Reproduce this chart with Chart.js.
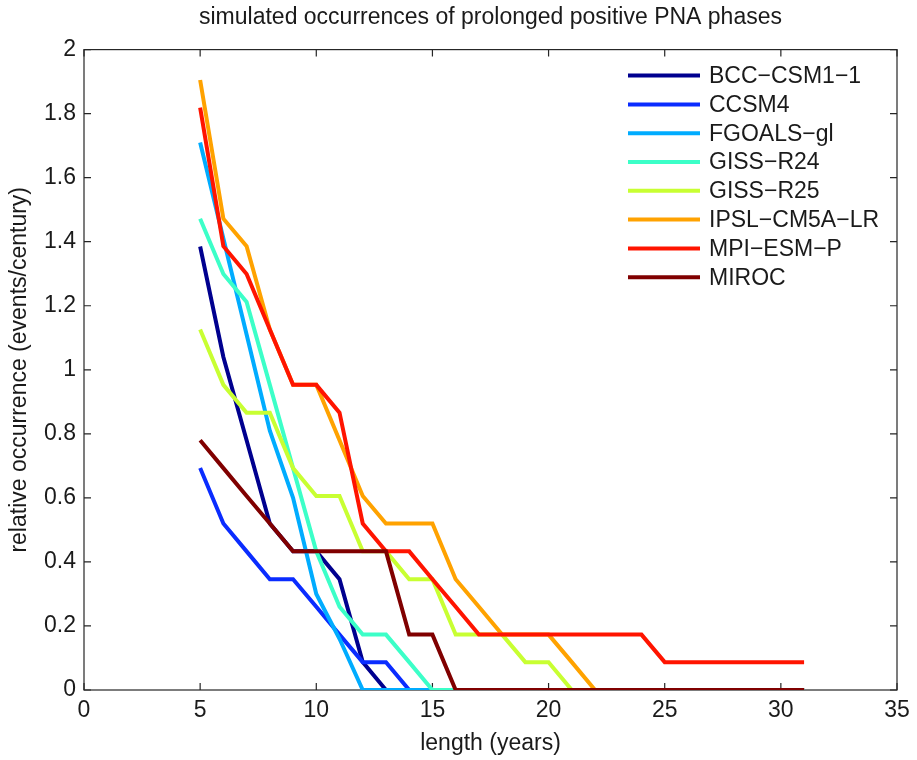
<!DOCTYPE html>
<html>
<head>
<meta charset="utf-8">
<title>simulated occurrences of prolonged positive PNA phases</title>
<script src="https://cdn.jsdelivr.net/npm/chart.js@4.4.1/dist/chart.umd.min.js"></script>
<style>
  html, body { margin: 0; padding: 0; background: #fff; }
</style>
</head>
<body>
<canvas id="pnaChart" width="917" height="760"></canvas>
<script>
// event length in years (x)
const lengths = [5, 6, 7, 8, 9, 10, 11, 12, 13, 14, 15, 16, 17, 18, 19, 20, 21, 22, 23, 24, 25, 26, 27, 28, 29, 30, 31];

const modelNames = ["BCC\u2212CSM1\u22121", "CCSM4", "FGOALS\u2212gl", "GISS\u2212R24", "GISS\u2212R25", "IPSL\u2212CM5A\u2212LR", "MPI\u2212ESM\u2212P", "MIROC"];
const modelColors = ["#00008f", "#0a2cff", "#00acff", "#3cffc8", "#c8ff32", "#ffa200", "#ff1400", "#800000"];

// relative occurrence (events/century), one value per length
const bcc    = [1.385, 1.04, 0.78, 0.52, 0.433, 0.433, 0.346, 0.087, 0, 0, 0, 0, 0, 0, 0, 0, 0, 0, 0, 0, 0, 0, 0, 0, 0, 0, 0];
const ccsm4  = [0.693, 0.52, 0.433, 0.346, 0.346, 0.26, 0.173, 0.087, 0.087, 0, 0, 0, 0, 0, 0, 0, 0, 0, 0, 0, 0, 0, 0, 0, 0, 0, 0];
const fgoals = [1.71, 1.41, 1.11, 0.81, 0.6, 0.3, 0.16, 0, 0, 0, 0, 0, 0, 0, 0, 0, 0, 0, 0, 0, 0, 0, 0, 0, 0, 0, 0];
const gissR24 = [1.472, 1.299, 1.212, 0.953, 0.693, 0.433, 0.26, 0.173, 0.173, 0.087, 0, 0, 0, 0, 0, 0, 0, 0, 0, 0, 0, 0, 0, 0, 0, 0, 0];
const gissR25 = [1.126, 0.953, 0.866, 0.866, 0.693, 0.606, 0.606, 0.433, 0.433, 0.346, 0.346, 0.173, 0.173, 0.173, 0.087, 0.087, 0, 0, 0, 0, 0, 0, 0, 0, 0, 0, 0];
const ipsl   = [1.905, 1.472, 1.386, 1.126, 0.953, 0.953, 0.78, 0.606, 0.52, 0.52, 0.52, 0.346, 0.26, 0.173, 0.173, 0.173, 0.087, 0, 0, 0, 0, 0, 0, 0, 0, 0, 0];
const mpi    = [1.819, 1.386, 1.299, 1.126, 0.953, 0.953, 0.866, 0.52, 0.433, 0.433, 0.346, 0.26, 0.173, 0.173, 0.173, 0.173, 0.173, 0.173, 0.173, 0.173, 0.087, 0.087, 0.087, 0.087, 0.087, 0.087, 0.087];
const miroc  = [0.78, 0.693, 0.606, 0.52, 0.433, 0.433, 0.433, 0.433, 0.433, 0.173, 0.173, 0, 0, 0, 0, 0, 0, 0, 0, 0, 0, 0, 0, 0, 0, 0, 0];

const modelSeries = [bcc, ccsm4, fgoals, gissR24, gissR25, ipsl, mpi, miroc];

const xTicks = [0, 5, 10, 15, 20, 25, 30, 35];
const yTicks = [0, 0.2, 0.4, 0.6, 0.8, 1, 1.2, 1.4, 1.6, 1.8, 2];

const FONT = "'Liberation Sans', Arial, Helvetica, sans-serif";
const INK = "#1a1a1a";

// box round the axes with inward ticks (matlab look)
const axesBox = {
  id: "axesBox",
  beforeDatasetsDraw(chart) {
    const { ctx, chartArea: a, scales } = chart;
    ctx.save();
    ctx.strokeStyle = "#262626";
    ctx.lineWidth = 1.2;
    ctx.strokeRect(a.left, a.top, a.right - a.left, a.bottom - a.top);
    ctx.beginPath();
    xTicks.forEach(v => {
      const px = scales.x.getPixelForValue(v);
      ctx.moveTo(px, a.bottom); ctx.lineTo(px, a.bottom - 7);
      ctx.moveTo(px, a.top); ctx.lineTo(px, a.top + 7);
    });
    yTicks.forEach(v => {
      const py = scales.y.getPixelForValue(v);
      ctx.moveTo(a.left, py); ctx.lineTo(a.left + 7, py);
      ctx.moveTo(a.right, py); ctx.lineTo(a.right - 7, py);
    });
    ctx.stroke();
    ctx.restore();
  }
};

// legend inside the top right of the plot, no box
const insideLegend = {
  id: "insideLegend",
  afterDatasetsDraw(chart) {
    const { ctx, chartArea: a } = chart;
    const x0 = a.right - 269, lineLen = 72, rowH = 28.8, y0 = a.top + 26;
    ctx.save();
    ctx.font = "23px " + FONT;
    ctx.textBaseline = "middle";
    ctx.textAlign = "left";
    chart.data.datasets.forEach((ds, i) => {
      const y = y0 + i * rowH;
      ctx.strokeStyle = ds.borderColor;
      ctx.lineWidth = 4;
      ctx.beginPath();
      ctx.moveTo(x0, y);
      ctx.lineTo(x0 + lineLen, y);
      ctx.stroke();
      ctx.fillStyle = INK;
      ctx.fillText(ds.label, x0 + lineLen + 9, y + 1);
    });
    ctx.restore();
  }
};

new Chart(document.getElementById("pnaChart"), {
  type: "line",
  data: {
    datasets: modelNames.map((name, i) => ({
      label: name,
      data: lengths.map((len, j) => ({ x: len, y: modelSeries[i][j] })),
      borderColor: modelColors[i],
      backgroundColor: modelColors[i],
      borderWidth: 4,
      pointRadius: 0,
      tension: 0,
      fill: false,
      order: modelNames.length - i // later models drawn on top
    }))
  },
  options: {
    responsive: false,
    animation: false,
    layout: { padding: { left: 0, right: 20, top: 0, bottom: 0 } },
    plugins: {
      legend: { display: false },
      tooltip: { enabled: false },
      title: {
        display: true,
        fullSize: false, // centre over the axes like matlab
        text: "simulated occurrences of prolonged positive PNA phases",
        color: INK,
        font: { family: FONT, size: 23, weight: "normal" },
        padding: { top: 4, bottom: 18 }
      }
    },
    scales: {
      x: {
        type: "linear",
        min: 0,
        max: 35,
        afterBuildTicks: s => { s.ticks = xTicks.map(v => ({ value: v })); },
        afterFit: s => { s.height = 70; },
        grid: { display: false, drawTicks: false },
        border: { display: false },
        ticks: { color: INK, font: { family: FONT, size: 23 }, padding: 7, maxRotation: 0 },
        title: { display: true, text: "length (years)", color: INK, font: { family: FONT, size: 23 }, padding: { top: 0, bottom: 3 } }
      },
      y: {
        min: 0,
        max: 2,
        afterBuildTicks: s => { s.ticks = yTicks.map(v => ({ value: v })); },
        afterFit: s => { s.width = 84; },
        grid: { display: false, drawTicks: false },
        border: { display: false },
        ticks: {
          color: INK,
          font: { family: FONT, size: 23 },
          padding: 8,
          callback: v => String(Math.round(v * 10) / 10)
        },
        title: { display: true, text: "relative occurrence (events/century)", color: INK, font: { family: FONT, size: 23 }, padding: { top: 6, bottom: 0 } }
      }
    }
  },
  plugins: [axesBox, insideLegend]
});
</script>
</body>
</html>
